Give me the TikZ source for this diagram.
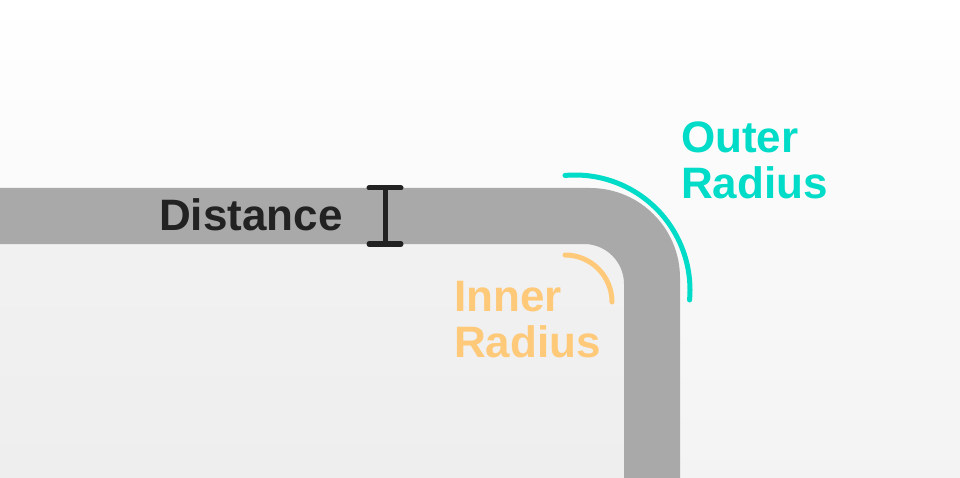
\documentclass[tikz,border=0pt]{standalone}
\usepackage{fontspec}
\setmainfont{Liberation Sans}
\definecolor{band}{HTML}{A9A9A9}
\definecolor{teal}{HTML}{00DCC8}
\definecolor{orng}{HTML}{FFC97A}
\definecolor{ink}{HTML}{222222}
\definecolor{bgtop}{HTML}{FFFFFF}
\definecolor{bgbot}{HTML}{F3F3F3}
\definecolor{inside}{HTML}{EEEEEE}
\tikzset{lbl/.style={font=\fontsize{44}{54}\selectfont\bfseries, inner sep=0pt, anchor=west, align=left}}
\begin{document}
\begin{tikzpicture}[x=1pt,y=-1pt]
\useasboundingbox (0,0) rectangle (960,478);
\shade[top color=bgtop, bottom color=bgbot] (0,0) rectangle (960,478);
% inside region
\shade[top color=inside!80!white, bottom color=inside] (0,244) -- (584,244) arc[start angle=-90,end angle=0,radius=40] -- (624,478) -- (0,478) -- cycle;
% band
\fill[band] (0,188) -- (590,188) arc[start angle=-90,end angle=0,radius=90] -- (680,478) -- (624,478) -- (624,284) arc[start angle=0,end angle=-90,radius=40] -- (0,244) -- cycle;
% arcs
\draw[teal, line width=5pt, line cap=round] (575,290) ++(-95:115) arc[start angle=-95,end angle=5,radius=115];
\draw[orng, line width=5pt, line cap=round] (565,302) ++(-90:47) arc[start angle=-90,end angle=0,radius=47];
% I-beam
\coordinate (t) at (385,188);
\coordinate (b) at (385,244);
\draw[ink, line width=5pt] (t) -- (b);
\draw[ink, line width=5pt, line cap=round] (369,188) -- (401,188) (369,244) -- (401,244);
\node[lbl, text=ink] (dist) at (159,215) {Distance};
\node[lbl, text=teal] (outer) at (681,160) {Outer\\[-8pt]Radius};
\node[lbl, text=orng] (inner) at (454,320) {Inner\\[-8pt]Radius};
\end{tikzpicture}
\end{document}
